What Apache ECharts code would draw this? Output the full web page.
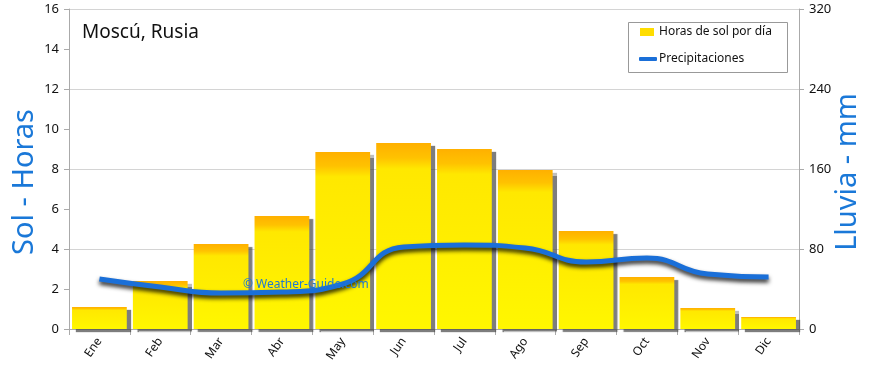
<!DOCTYPE html>
<html>
<head>
<meta charset="utf-8">
<script src="https://cdn.jsdelivr.net/npm/echarts@6/dist/echarts.min.js"></script>
<style>
html,body{margin:0;padding:0;background:#fff;}
#c{width:870px;height:368px;}
</style>
</head>
<body>
<div id="c"></div>
<script>
var months = ['Ene','Feb','Mar','Abr','May','Jun','Jul','Ago','Sep','Oct','Nov','Dic'];
var sunHours = [1.1, 2.4, 4.25, 5.65, 8.85, 9.3, 9.0, 7.95, 4.9, 2.6, 1.05, 0.6];
var rainMm = [50, 42, 36, 37, 45, 82, 84, 81, 67, 71, 55, 52];
var leftTicks = [0, 16, 2];
var rightTicks = [0, 320, 80];

var FONT = '"Noto Sans", sans-serif';
var chart = echarts.init(document.getElementById('c'), null, {renderer: 'canvas'});
chart.setOption({
  animation: false,
  backgroundColor: '#fff',
  title: {
    text: 'Moscú, Rusia',
    left: 77, top: 18,
    textStyle: {fontFamily: FONT, fontSize: 19, fontWeight: 'normal', color: '#111'}
  },
  graphic: [{
    type: 'text', left: 243, top: 279, z: 100,
    style: {text: '© Weather-Guide.com', fill: '#1E78D2', font: '12px ' + FONT}
  }, {
    type: 'rect', z: 90, shape: {x: 628.5, y: 22.5, width: 159, height: 50},
    style: {fill: '#fff', stroke: '#999', lineWidth: 1}
  }, {
    type: 'text', z: 100, x: 25, y: 182, rotation: Math.PI / 2,
    style: {text: 'Sol - Horas', fill: '#1A78D8', font: '29px ' + FONT, align: 'center', verticalAlign: 'middle'}
  }, {
    type: 'text', z: 100, x: 848, y: 172, rotation: Math.PI / 2,
    style: {text: 'Lluvia - mm', fill: '#1A78D8', font: '29px ' + FONT, align: 'center', verticalAlign: 'middle'}
  }],
  legend: [{
    left: 640, top: 26, padding: 0, z: 95,
    itemWidth: 14, itemHeight: 8,
    textStyle: {fontFamily: FONT, fontSize: 12, color: '#111'},
    data: [{name: 'Horas de sol por día', icon: 'rect', itemStyle: {color: '#FFDD00'}}]
  }, {
    left: 639, top: 53, padding: 0, z: 95,
    itemWidth: 18, itemHeight: 4,
    textStyle: {fontFamily: FONT, fontSize: 12, color: '#111', padding: [0, 0, 0, -3]},
    data: [{name: 'Precipitaciones', icon: 'roundRect', itemStyle: {color: '#1A6FD8'}}]
  }],
  grid: {left: 69, right: 71, top: 9, bottom: 39},
  xAxis: {
    type: 'category', data: months,
    boundaryGap: true,
    axisLine: {lineStyle: {color: '#aaa'}},
    axisTick: {show: true, alignWithLabel: false, length: 6, lineStyle: {color: '#aaa'}},
    axisLabel: {rotate: 55, fontFamily: FONT, fontSize: 12, color: '#111', margin: 10}
  },
  yAxis: [{
    type: 'value', min: leftTicks[0], max: leftTicks[1], interval: leftTicks[2],
    axisLine: {show: true, lineStyle: {color: '#aaa'}},
    axisTick: {show: true, length: 5, lineStyle: {color: '#aaa'}},
    axisLabel: {fontFamily: FONT, fontSize: 13, color: '#111', margin: 10},
    splitLine: {show: false}
  }, {
    type: 'value', min: rightTicks[0], max: rightTicks[1], interval: rightTicks[2],
    axisLine: {show: true, lineStyle: {color: '#aaa'}},
    axisTick: {show: true, length: 5, lineStyle: {color: '#aaa'}},
    axisLabel: {fontFamily: FONT, fontSize: 13, color: '#111', margin: 10},
    splitLine: {show: true, lineStyle: {color: '#d4d4d4'}}
  }],
  series: [{
    name: 'Horas de sol por día',
    type: 'bar', yAxisIndex: 0,
    data: sunHours,
    barWidth: '90%',
    itemStyle: {
      color: new echarts.graphic.LinearGradient(0, 0, 0, 1, [
        {offset: 0, color: '#FFB000'},
        {offset: 0.08, color: '#FFC200'},
        {offset: 0.14, color: '#FFE800'},
        {offset: 0.5, color: '#FFEE00'},
        {offset: 1, color: '#FFF700'}
      ]),
      shadowColor: 'rgba(70,70,70,0.7)', shadowBlur: 1, shadowOffsetX: 4, shadowOffsetY: 3
    }
  }, {
    name: 'Precipitaciones',
    type: 'line', yAxisIndex: 1,
    data: rainMm,
    smooth: 0.5,
    symbol: 'none',
    z: 5,
    lineStyle: {
      color: '#1A6FD8', width: 5,
      shadowColor: 'rgba(0,0,0,0.85)', shadowBlur: 4, shadowOffsetY: 3
    }
  }]
});
</script>
</body>
</html>
